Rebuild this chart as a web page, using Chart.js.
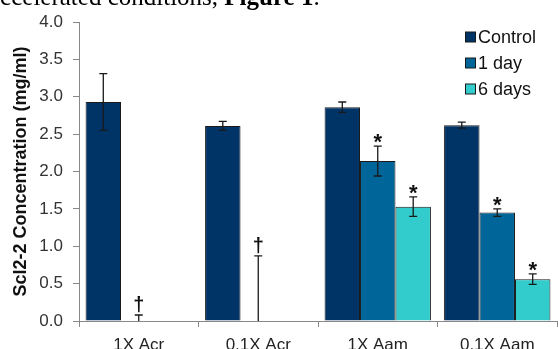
<!DOCTYPE html>
<html>
<head>
<meta charset="utf-8">
<script src="https://cdn.jsdelivr.net/npm/chart.js@4.4.1/dist/chart.umd.min.js"></script>
<style>
  html, body { margin: 0; padding: 0; background: #fff; overflow: hidden; }
  #wrap { width: 558px; height: 349px; position: relative; }
</style>
</head>
<body>
<div id="wrap"><canvas id="chart" width="558" height="349"></canvas></div>
<script>
// ---- data ----
const categories = ['1X Acr', '0.1X Acr', '1X Aam', '0.1X Aam'];
const seriesNames = ['Control', '1 day', '6 days'];

const controlVals = [2.93, 2.61, 2.86, 2.62];
const controlErr = [0.38, 0.06, 0.07, 0.04];
const day1Vals = [0, 0, 2.14, 1.45];
const day1Err = [0.08, 0.87, 0.2, 0.05];
const day6Vals = [null, null, 1.53, 0.56];
const day6Err = [null, null, 0.13, 0.07];

// significance marks above the error bars
const controlMarks = ['', '', '', ''];
const day1Marks = ['†', '†', '*', '*'];
const day6Marks = ['', '', '*', '*'];

const colors = ['#003366', '#006699', '#33CCCC'];
const errors = [controlErr, day1Err, day6Err];
const marks = [controlMarks, day1Marks, day6Marks];

const FONT = '"Liberation Sans", Arial, sans-serif';

// draws error bars, marks, legend and the clipped caption line
const extras = {
  id: 'extras',
  afterDatasetsDraw(chart) {
    const ctx = chart.ctx;
    const y = chart.scales.y;
    ctx.save();
    chart.data.datasets.forEach((ds, i) => {
      const meta = chart.getDatasetMeta(i);
      meta.data.forEach((bar, j) => {
        const v = ds.data[j];
        const e = errors[i][j];
        if (v === null || e === null) return;
        const x = bar.x;
        const yTop = y.getPixelForValue(v + e);
        const yBot = y.getPixelForValue(Math.max(0, v - e));
        ctx.strokeStyle = '#1a1a1a';
        ctx.lineWidth = 1.3;
        ctx.beginPath();
        ctx.moveTo(x, yTop); ctx.lineTo(x, yBot);
        ctx.moveTo(x - 4, yTop); ctx.lineTo(x + 4, yTop);
        if (v - e > 0) { ctx.moveTo(x - 4, yBot); ctx.lineTo(x + 4, yBot); }
        ctx.stroke();
        const m = marks[i][j];
        if (m) {
          ctx.fillStyle = '#111';
          ctx.textAlign = 'center';
          ctx.textBaseline = 'alphabetic';
          if (m === '*') {
            ctx.font = 'bold 22px ' + FONT;
            ctx.fillText(m, x, yTop + 3);
          } else {
            ctx.font = 'bold 20px ' + FONT;
            ctx.fillText(m, x, yTop - 4);
          }
        }
      });
    });
    ctx.restore();
  },
  afterDraw(chart) {
    const ctx = chart.ctx;
    ctx.save();
    // legend
    ctx.font = '18px ' + FONT;
    ctx.textBaseline = 'middle';
    ctx.textAlign = 'left';
    const ly = [37, 63, 89];
    seriesNames.forEach((name, i) => {
      ctx.fillStyle = colors[i];
      ctx.fillRect(465.5, ly[i] - 5, 10, 10);
      ctx.strokeStyle = '#1a1a1a';
      ctx.lineWidth = 1;
      ctx.strokeRect(465.5, ly[i] - 5, 10, 10);
      ctx.fillStyle = '#111';
      ctx.fillText(name, 478, ly[i] + 1);
    });
    // caption text cut off at the top of the picture
    ctx.textBaseline = 'alphabetic';
    ctx.fillStyle = '#000';
    ctx.font = '25px "Liberation Serif", "Times New Roman", serif';
    const t1 = 'accelerated conditions, ';
    const x0 = -11;
    const by = 5;
    ctx.fillText(t1, x0, by);
    const w1 = ctx.measureText(t1).width;
    ctx.font = 'bold 25px "Liberation Serif", "Times New Roman", serif';
    ctx.fillText('Figure 1', x0 + w1, by);
    const w2 = ctx.measureText('Figure 1').width;
    ctx.font = '25px "Liberation Serif", "Times New Roman", serif';
    ctx.fillText('.', x0 + w1 + w2, by);
    ctx.restore();
  }
};

const ctx = document.getElementById('chart').getContext('2d');
const chart = new Chart(ctx, {
  type: 'bar',
  data: {
    labels: categories,
    datasets: [
      { label: seriesNames[0], data: controlVals, backgroundColor: colors[0] },
      { label: seriesNames[1], data: day1Vals, backgroundColor: colors[1] },
      { label: seriesNames[2], data: day6Vals, backgroundColor: colors[2] }
    ].map(d => Object.assign(d, {
      borderColor: '#1a1a1a',
      borderWidth: 1,
      categoryPercentage: 0.89,
      barPercentage: 1.0
    }))
  },
  options: {
    responsive: false,
    animation: false,
    layout: { padding: { top: 22, right: 1, left: 0, bottom: 0 } },
    plugins: {
      legend: { display: false },
      tooltip: { enabled: false }
    },
    scales: {
      x: {
        grid: { display: true, drawOnChartArea: false, offset: true, tickLength: 6, color: '#888' },
        border: { color: '#888', width: 1 },
        ticks: { font: { family: FONT, size: 17 }, color: '#222', padding: 8, maxRotation: 0 },
        afterFit: s => { s.height = 28; }
      },
      y: {
        min: 0,
        max: 4,
        ticks: {
          stepSize: 0.5,
          font: { family: FONT, size: 17 },
          color: '#333',
          padding: 10,
          callback: v => v.toFixed(1)
        },
        grid: { display: true, drawOnChartArea: false, tickLength: 6, color: '#888' },
        border: { color: '#888', width: 1 },
        title: {
          display: true,
          text: 'Scl2-2 Concentration (mg/ml)',
          font: { family: FONT, size: 18, weight: 'bold' },
          color: '#111',
          padding: { top: 10, bottom: 0 }
        },
        afterFit: s => { s.width = 79; }
      }
    }
  },
  plugins: [extras]
});
</script>
</body>
</html>
